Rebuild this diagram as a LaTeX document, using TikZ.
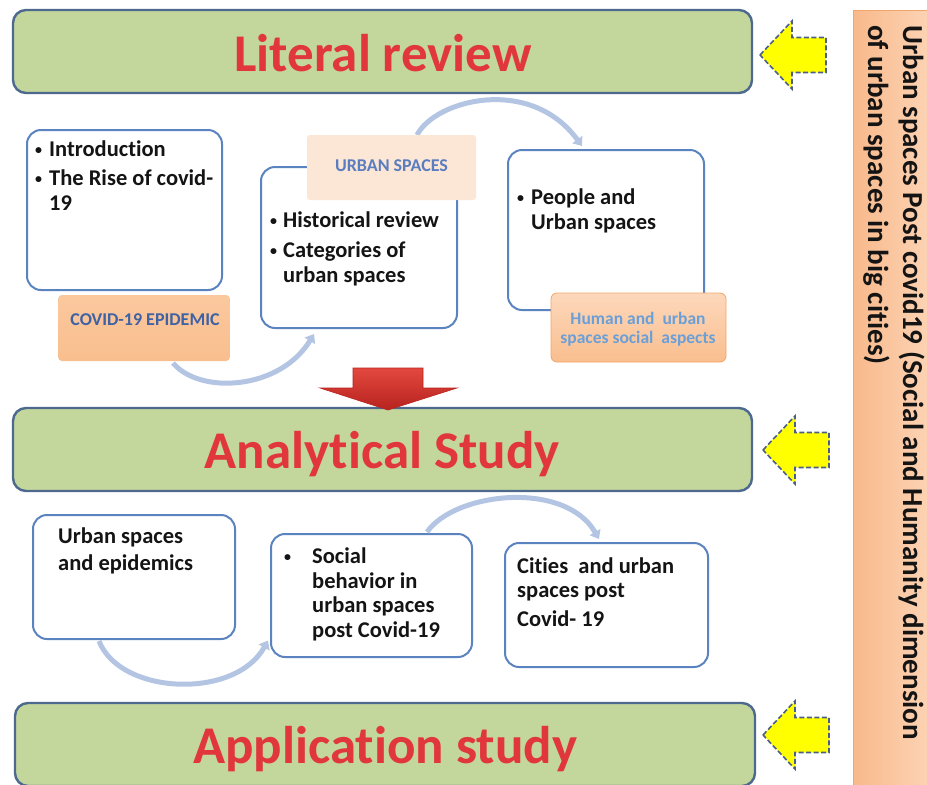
\documentclass[tikz,border=0pt]{standalone}
\usepackage{fontspec}
\setmainfont{Carlito}[Ligatures=NoCommon]
\usetikzlibrary{arrows.meta,calc}
\definecolor{bannerfill}{HTML}{C3D69B}
\definecolor{bannerline}{HTML}{4D6A8E}
\definecolor{boxline}{HTML}{5A83C0}
\definecolor{titlered}{HTML}{E0363C}
\definecolor{arcblue}{HTML}{B3C5E3}
\definecolor{lblorange}{HTML}{F9BE8E}
\definecolor{lblorangetop}{HTML}{FBC89E}
\definecolor{lblpeach}{HTML}{FCE6D6}
\definecolor{lbltext}{HTML}{3E62A3}
\definecolor{lbltextmid}{HTML}{5A7DBF}
\definecolor{lbltextlight}{HTML}{6A9FD8}
\definecolor{sideleft}{HTML}{F8B98B}
\definecolor{sideright}{HTML}{FDD8BC}
\definecolor{sideline}{HTML}{F2A56A}
\definecolor{yel}{HTML}{FFFF00}
\definecolor{yelline}{HTML}{4A5E86}
\definecolor{redtop}{HTML}{E2483E}
\definecolor{redbot}{HTML}{B8231F}
\definecolor{bodytext}{HTML}{141414}
\newcommand\bodyf{\fontsize{22.5}{26}\selectfont\bfseries}
\newcommand\titlef{\fontsize{53}{60}\selectfont\bfseries}
\newcommand\sidef{\fontsize{29}{34}\selectfont\bfseries}
\newcommand\bul[1]{\makebox[#1][l]{\raisebox{1.5pt}{\fontsize{14}{14}\selectfont\textbullet}}}
\tikzset{
  banner/.style={draw=bannerline, line width=2.4pt, fill=bannerfill, rounded corners=13pt, inner sep=0pt},
  titletxt/.style={anchor=base, inner sep=0pt, font=\titlef, text=titlered},
  wbox/.style={draw=boxline, line width=2pt, fill=white, rounded corners=14pt, inner sep=0pt},
  linetxt/.style={anchor=base west, inner sep=0pt, font=\bodyf, text=bodytext},
  arc/.style={draw=arcblue, line width=5pt, -{Triangle[width=12pt,length=8pt]}},
  yarrowstyle/.style={draw=yelline, fill=yel, line width=1.6pt, dash pattern=on 5pt off 2.5pt, line join=miter},
  yarrow/.pic={\path[yarrowstyle] (0,0) -- (32,-34) -- (32,-17.5) -- (66,-17.5) -- (66,17.5) -- (32,17.5) -- (32,34) -- cycle;}
}
\begin{document}
\begin{tikzpicture}[x=1pt,y=-1pt]
\clip (0,0) rectangle (927,785);
\fill[white] (0,0) rectangle (927,785);

% side bar
\node[rectangle, left color=sideleft, right color=sideright, draw=sideline, line width=1pt,
      minimum width=90pt, minimum height=800pt, anchor=north west, inner sep=0pt] (side) at (853,10) {};
\node[rotate=-90, anchor=base west, inner sep=0pt, font=\sidef, text=bodytext] (side1) at (903,25)
  {Urban spaces Post covid19 (Social and Humanity dimension};
\node[rotate=-90, anchor=base west, inner sep=0pt, font=\sidef, text=bodytext] (side2) at (868,25)
  {of urban spaces in big cities)};

% banners
\node[banner, minimum width=739pt, minimum height=83pt] (lit) at (382.5,51.5) {};
\node[banner, minimum width=739pt, minimum height=83pt] (ana) at (382.5,449.5) {};
\node[banner, minimum width=740pt, minimum height=83pt] (app) at (385,744.5) {};

\node[titletxt] (litT) at (383,71) {Literal review};
\node[titletxt] (anaT) at (382,468) {Analytical Study};
\node[titletxt] (appT) at (385,763) {Application study};

% yellow arrows
\pic (ya1) at (760,55) {yarrow};
\pic (ya2) at (763,450) {yarrow};
\pic (ya3) at (763,735) {yarrow};

% red arrow
\shade[top color=redtop, bottom color=redbot, draw=redbot, line width=0.6pt]
  (353,368) -- (423,368) -- (423,388) -- (457,388) -- (388,410) -- (320,388) -- (353,388) -- cycle;

% boxes
\node[wbox, minimum width=195pt, minimum height=160pt] (boxA) at (124.5,210) {};
\node[wbox, minimum width=196pt, minimum height=161pt] (boxB) at (359,247.5) {};
\node[wbox, minimum width=196pt, minimum height=160pt] (boxC) at (606,230) {};
\node[wbox, minimum width=202pt, minimum height=124pt] (boxD) at (134,577) {};
\node[wbox, minimum width=201pt, minimum height=123pt] (boxE) at (371.5,595.5) {};
\node[wbox, minimum width=203pt, minimum height=124pt] (boxF) at (606.5,605) {};

% label geometry
\coordinate (covidc) at (144,328);
\coordinate (urbanc) at (391.5,167.5);
\node[rectangle, rounded corners=6pt, top color=sideright, bottom color=lblorange, draw=sideline, line width=0.8pt, minimum width=175pt, minimum height=69pt, inner sep=0pt] (humanlbl) at (638.5,327.5) {};

% curved connectors
\draw[arc] ($(covidc)+(29,35)$) .. controls (200,395) and (280,390) .. ($(boxB.south west)+(54,5)$);
\draw[arc] ($(urbanc)+(25.5,-32.5)$) .. controls (435,100) and (530,75) .. ($(boxC.north west)+(75,-3)$);
\draw[arc] ($(boxD.south west)+(67,1)$) .. controls (120,695) and (235,700) .. ($(boxE.west)+(-2,45)$);
\draw[arc] ($(boxE.north west)+(157,-1)$) .. controls (455,492) and (565,480) .. ($(boxF.north west)+(95,-3)$);

% labels over arc starts
\node[rectangle, rounded corners=4pt, top color=lblorangetop, bottom color=lblorange, minimum width=172pt, minimum height=66pt, inner sep=0pt] (covidlbl) at (covidc) {};
\node[rectangle, rounded corners=3pt, fill=lblpeach, minimum width=169pt, minimum height=65pt, inner sep=0pt] (urbanlbl) at (urbanc) {};

% label texts
\node[inner sep=0pt, font=\fontsize{18}{21}\selectfont\bfseries, text=lbltext] (covidtxt) at ($(covidlbl.center)+(1,-8)$) {COVID-19 EPIDEMIC};
\node[inner sep=0pt, font=\fontsize{18}{21}\selectfont\bfseries, text=lbltextmid] (urbantxt) at ($(urbanlbl.center)+(0,-1.5)$) {URBAN SPACES};
\node[anchor=base, inner sep=0pt, font=\fontsize{17.5}{20}\selectfont\bfseries, text=lbltextlight] (human1) at (638,324) {Human and\ \ urban};
\node[anchor=base, inner sep=0pt, font=\fontsize{17.5}{20}\selectfont\bfseries, text=lbltextlight] (human2) at (638,343) {spaces social\ \ aspects};

% box texts
\node[linetxt] (a1) at (35,156) {\bul{14pt}Introduction};
\node[linetxt] (a2) at (35,185) {\bul{14pt}The Rise of covid-};
\node[linetxt] (a3) at (49,210) {19};

\node[linetxt] (b1) at (270,227) {\bul{13pt}Historical review};
\node[linetxt] (b2) at (270,257) {\bul{13pt}Categories of};
\node[linetxt] (b3) at (283,282) {urban spaces};

\node[linetxt] (c1) at (517,204) {\bul{14pt}People and};
\node[linetxt] (c2) at (531,229) {Urban spaces};

\node[linetxt] (d1) at (58,543) {Urban spaces};
\node[linetxt] (d2) at (58,570) {and epidemics};

\node[linetxt] (e1) at (284,563) {\bul{28pt}Social};
\node[linetxt] (e2) at (312,588) {behavior in};
\node[linetxt] (e3) at (312,612) {urban spaces};
\node[linetxt] (e4) at (312,637) {post Covid-19};

\node[linetxt] (f1) at (517,573) {Cities\ \ and urban};
\node[linetxt] (f2) at (517,597) {spaces post};
\node[linetxt] (f3) at (517,626) {Covid- 19};
\end{tikzpicture}
\end{document}
